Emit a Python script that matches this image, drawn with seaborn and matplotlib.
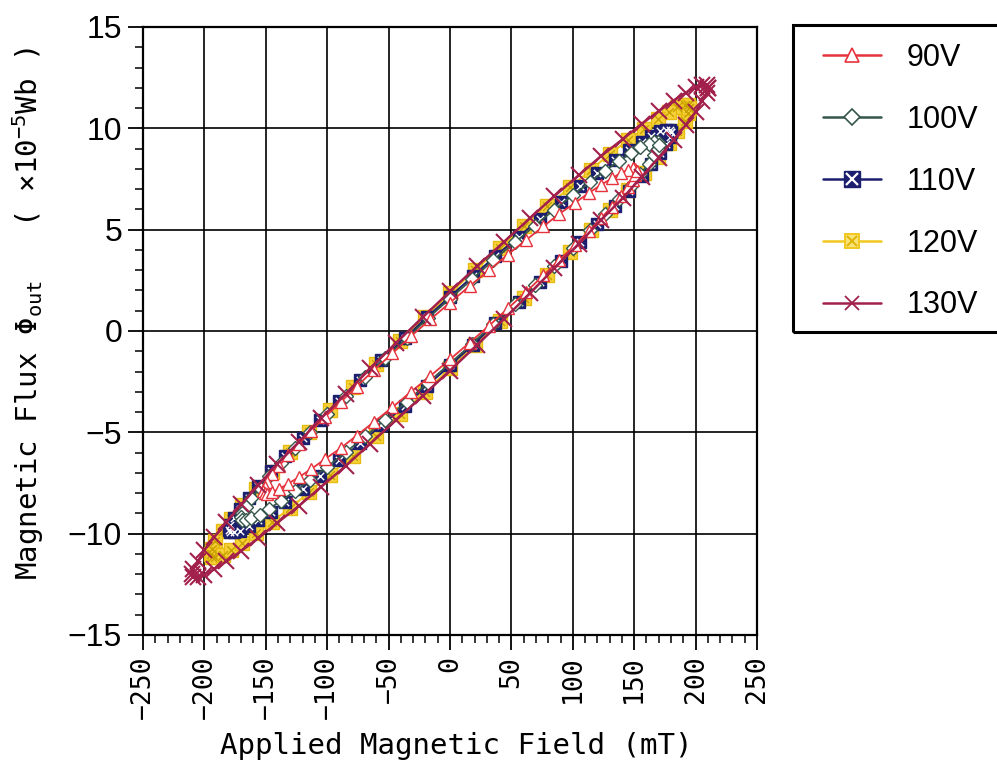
import matplotlib
matplotlib.use("Agg")
import matplotlib.pyplot as plt
import seaborn as sns
from matplotlib.lines import Line2D
from matplotlib.patches import Rectangle
from matplotlib.ticker import MultipleLocator
from matplotlib.font_manager import FontProperties, fontManager

# ---------------- data ----------------
labels = ["90V", "100V", "110V", "120V", "130V"]

# 90 V : descending branch then ascending branch
h90_down = [152, 151, 149, 145, 139, 132, 123, 113, 102, 89, 76, 62, 47, 32, 16, 0,
            -16, -32, -47, -62, -76, -89, -102, -113, -123, -132, -139, -145, -149, -151, -152]
b90_down = [7.90, 8.00, 8.02, 7.95, 7.79, 7.54, 7.21, 6.81, 6.33, 5.78, 5.16, 4.49, 3.77, 3.01, 2.22, 1.40,
            0.57, -0.27, -1.11, -1.93, -2.74, -3.51, -4.25, -4.93, -5.57, -6.14, -6.65, -7.08, -7.44, -7.71, -7.90]
h90_up = [-151, -149, -145, -139, -132, -123, -113, -102, -89, -76, -62, -47, -32, -16, 0,
          16, 32, 47, 62, 76, 89, 102, 113, 123, 132, 139, 145, 149, 151, 152]
b90_up = [-8.00, -8.02, -7.95, -7.79, -7.54, -7.21, -6.81, -6.33, -5.78, -5.16, -4.49, -3.77, -3.01, -2.22, -1.40,
          -0.57, 0.27, 1.11, 1.93, 2.74, 3.51, 4.25, 4.93, 5.57, 6.14, 6.65, 7.08, 7.44, 7.71, 7.90]

# 100 V
h100_down = [170, 169, 166, 162, 155, 147, 138, 126, 114, 100, 85, 69, 53, 35, 18, 0,
             -18, -35, -53, -69, -85, -100, -114, -126, -138, -147, -155, -162, -166, -169, -170]
b100_down = [9.20, 9.32, 9.33, 9.24, 9.06, 8.77, 8.38, 7.91, 7.35, 6.70, 5.99, 5.20, 4.37, 3.48, 2.55, 1.60,
             0.63, -0.35, -1.32, -2.28, -3.21, -4.11, -4.97, -5.77, -6.50, -7.17, -7.75, -8.26, -8.67, -8.98, -9.20]
h100_up = [-169, -166, -162, -155, -147, -138, -126, -114, -100, -85, -69, -53, -35, -18, 0,
           18, 35, 53, 69, 85, 100, 114, 126, 138, 147, 155, 162, 166, 169, 170]
b100_up = [-9.32, -9.33, -9.24, -9.06, -8.77, -8.38, -7.91, -7.35, -6.70, -5.99, -5.20, -4.37, -3.48, -2.55, -1.60,
           -0.63, 0.35, 1.32, 2.28, 3.21, 4.11, 4.97, 5.77, 6.50, 7.17, 7.75, 8.26, 8.67, 8.98, 9.20]

# 110 V
h110_down = [180, 179, 176, 171, 164, 156, 146, 134, 120, 106, 90, 73, 56, 37, 19, 0,
             -19, -37, -56, -73, -90, -106, -120, -134, -146, -156, -164, -171, -176, -179, -180]
b110_down = [9.80, 9.92, 9.94, 9.85, 9.64, 9.34, 8.93, 8.42, 7.82, 7.14, 6.37, 5.54, 4.65, 3.70, 2.72, 1.70,
             0.67, -0.37, -1.41, -2.43, -3.43, -4.39, -5.29, -6.15, -6.93, -7.64, -8.26, -8.80, -9.23, -9.57, -9.80]
h110_up = [-179, -176, -171, -164, -156, -146, -134, -120, -106, -90, -73, -56, -37, -19, 0,
           19, 37, 56, 73, 90, 106, 120, 134, 146, 156, 164, 171, 176, 179, 180]
b110_up = [-9.92, -9.94, -9.85, -9.64, -9.34, -8.93, -8.42, -7.82, -7.14, -6.37, -5.54, -4.65, -3.70, -2.72, -1.70,
           -0.67, 0.37, 1.41, 2.43, 3.43, 4.39, 5.29, 6.15, 6.93, 7.64, 8.26, 8.80, 9.23, 9.57, 9.80]

# 120 V
h120_down = [195, 194, 191, 185, 178, 169, 158, 145, 130, 115, 98, 79, 60, 41, 20, 0,
             -20, -41, -60, -79, -98, -115, -130, -145, -158, -169, -178, -185, -191, -194, -195]
b120_down = [11.0, 11.13, 11.14, 11.03, 10.80, 10.45, 9.99, 9.41, 8.74, 7.96, 7.10, 6.16, 5.16, 4.10, 2.99, 1.85,
             0.69, -0.48, -1.64, -2.78, -3.90, -4.97, -5.99, -6.94, -7.81, -8.60, -9.30, -9.89, -10.37, -10.75, -11.0]
h120_up = [-194, -191, -185, -178, -169, -158, -145, -130, -115, -98, -79, -60, -41, -20, 0,
           20, 41, 60, 79, 98, 115, 130, 145, 158, 169, 178, 185, 191, 194, 195]
b120_up = [-11.13, -11.14, -11.03, -10.80, -10.45, -9.99, -9.41, -8.74, -7.96, -7.10, -6.16, -5.16, -4.10, -2.99, -1.85,
           -0.69, 0.48, 1.64, 2.78, 3.90, 4.97, 5.99, 6.94, 7.81, 8.60, 9.30, 9.89, 10.37, 10.75, 11.0]

# 130 V
h130_down = [210, 209, 205, 200, 192, 182, 170, 156, 141, 123, 105, 85, 65, 44, 22, 0,
             -22, -44, -65, -85, -105, -123, -141, -156, -170, -182, -192, -200, -205, -209, -210]
b130_down = [12.0, 12.14, 12.14, 12.02, 11.76, 11.37, 10.85, 10.22, 9.48, 8.63, 7.69, 6.66, 5.56, 4.40, 3.19, 1.95,
             0.69, -0.59, -1.85, -3.10, -4.31, -5.48, -6.58, -7.61, -8.56, -9.42, -10.17, -10.81, -11.33, -11.73, -12.0]
h130_up = [-209, -205, -200, -192, -182, -170, -156, -141, -123, -105, -85, -65, -44, -22, 0,
           22, 44, 65, 85, 105, 123, 141, 156, 170, 182, 192, 200, 205, 209, 210]
b130_up = [-12.14, -12.14, -12.02, -11.76, -11.37, -10.85, -10.22, -9.48, -8.63, -7.69, -6.66, -5.56, -4.40, -3.19, -1.95,
           -0.69, 0.59, 1.85, 3.10, 4.31, 5.48, 6.58, 7.61, 8.56, 9.42, 10.17, 10.81, 11.33, 11.73, 12.0]

x_ticks = [-250, -200, -150, -100, -50, 0, 50, 100, 150, 200, 250]
x_tick_labels = ["\u2212250", "\u2212200", "\u2212150", "\u2212100", "\u221250", "0",
                 "50", "100", "150", "200", "250"]
y_ticks = [-15, -10, -5, 0, 5, 10, 15]
y_tick_labels = ["\u221215", "\u221210", "\u22125", "0", "5", "10", "15"]

x_label = "Applied Magnetic Field (mT)"
y_label = "Magnetic Flux \u03a6$_{\\mathrm{out}}$   ( \u00d710$^{\\mathrm{-5}}$Wb )"

# ---------------- style ----------------
sns.set_style("ticks")
names = {f.name for f in fontManager.ttflist}
narrow = "Liberation Sans Narrow" if "Liberation Sans Narrow" in names else "Liberation Sans"
legend_size = 24 if narrow == "Liberation Sans Narrow" else 22
mono = "DejaVu Sans Mono"
plt.rcParams["font.family"] = ["Liberation Sans", "DejaVu Sans"]
plt.rcParams["mathtext.fontset"] = "custom"
plt.rcParams["mathtext.rm"] = mono
plt.rcParams["mathtext.it"] = mono
plt.rcParams["mathtext.bf"] = mono
plt.rcParams["axes.unicode_minus"] = True
for key in ["text.color", "axes.labelcolor", "xtick.color", "ytick.color", "axes.edgecolor"]:
    plt.rcParams[key] = "black"

c90, c100, c110, c120, c130 = "#e6323c", "#35564a", "#1b1f6e", "#f2c81e", "#a2204c"

fig = plt.figure(figsize=(9.97, 7.71), dpi=100)
ax = fig.add_axes([0.1434, 0.1764, 0.6159, 0.7886])


def loop(h_down, b_down, h_up, b_up):
    return h_down + h_up, b_down + b_up


x120, y120 = loop(h120_down, b120_down, h120_up, b120_up)
x110, y110 = loop(h110_down, b110_down, h110_up, b110_up)
x100, y100 = loop(h100_down, b100_down, h100_up, b100_up)
x90, y90 = loop(h90_down, b90_down, h90_up, b90_up)
x130, y130 = loop(h130_down, b130_down, h130_up, b130_up)

common = dict(sort=False, estimator=None, legend=False, ax=ax)

# 120 V (yellow, bottom)
sns.lineplot(x=x120, y=y120, color=c120, lw=1.5, marker="s", markersize=10,
             markerfacecolor="#f6d23a", markeredgecolor="#e8bb10", markeredgewidth=1.0,
             zorder=3, **common)
sns.scatterplot(x=x120, y=y120, marker="x", color="#c9a000", s=40, linewidth=1.0,
                ax=ax, legend=False, zorder=3.1)
# 110 V (navy squares with white cross)
sns.lineplot(x=x110, y=y110, color=c110, lw=1.4, marker="s", markersize=8,
             markerfacecolor=c110, markeredgecolor=c110, markeredgewidth=1.0,
             zorder=4, **common)
sns.scatterplot(x=x110, y=y110, marker="x", color="white", s=28, linewidth=1.0,
                ax=ax, legend=False, zorder=4.1)
# 100 V (open diamonds)
sns.lineplot(x=x100, y=y100, color=c100, lw=1.3, marker="D", markersize=7,
             markerfacecolor="white", markeredgecolor=c100, markeredgewidth=1.0,
             zorder=5, **common)
# 90 V (open triangles)
sns.lineplot(x=x90, y=y90, color=c90, lw=1.3, marker="^", markersize=9,
             markerfacecolor="white", markeredgecolor=c90, markeredgewidth=1.0,
             zorder=6, **common)
# 130 V (crosses, top)
sns.lineplot(x=x130, y=y130, color=c130, lw=1.8, marker="x", markersize=11,
             markeredgecolor=c130, markeredgewidth=1.5, zorder=7, **common)

# ---------------- axes ----------------
ax.set_xlim(-250, 250)
ax.set_ylim(-15, 15)
ax.set_xticks(x_ticks)
ax.set_xticklabels(x_tick_labels, rotation=90, fontfamily=mono, fontsize=19)
ax.set_yticks(y_ticks)
ax.set_yticklabels(y_tick_labels, fontfamily="Liberation Sans", fontsize=23)
ax.xaxis.set_minor_locator(MultipleLocator(10))
ax.yaxis.set_minor_locator(MultipleLocator(1))
ax.tick_params(axis="both", which="major", direction="out", length=11, width=1.3,
               color="black", pad=4)
ax.tick_params(axis="both", which="minor", direction="out", length=6, width=1.1,
               color="black")
ax.grid(True, which="major", color="black", lw=1.2)
ax.set_axisbelow(True)
for sp in ax.spines.values():
    sp.set_visible(True)
    sp.set_color("black")
    sp.set_linewidth(1.6)

ax.set_xlabel(x_label, fontfamily=mono, fontsize=21)
ax.set_ylabel(y_label, fontfamily=mono, fontsize=21)
ax.xaxis.set_label_coords(0.51, -0.16)
ax.yaxis.set_label_coords(-0.158, 0.528)

# ---------------- legend ----------------
handles = [
    Line2D([], [], color=c90, lw=1.8, marker="^", ms=10, mfc="white", mec=c90, mew=1.2),
    Line2D([], [], color=c100, lw=1.8, marker="D", ms=8, mfc="white", mec=c100, mew=1.2),
    (Line2D([], [], color=c110, lw=1.8, marker="s", ms=11, mfc=c110, mec=c110),
     Line2D([], [], ls="none", marker="x", ms=8, mec="white", mew=1.6)),
    (Line2D([], [], color=c120, lw=1.8, marker="s", ms=10, mfc="#f8e27a", mec=c120, mew=1.4),
     Line2D([], [], ls="none", marker="x", ms=7, mec="#e0b400", mew=1.4)),
    Line2D([], [], color=c130, lw=1.8, marker="x", ms=10, mec=c130, mew=1.3),
]
fig.legend(handles, labels, loc="upper left", bbox_to_anchor=(0.8255, 0.944),
           frameon=False, borderpad=0, borderaxespad=0, handlelength=1.9,
           handletextpad=0.85, labelspacing=1.04,
           prop=FontProperties(family=narrow, size=legend_size))
fig.add_artist(Rectangle((0.7954, 0.5694), 0.3, 0.3982, transform=fig.transFigure,
                         fill=False, ec="black", lw=2.2))

fig.savefig("out.png", dpi=100)
